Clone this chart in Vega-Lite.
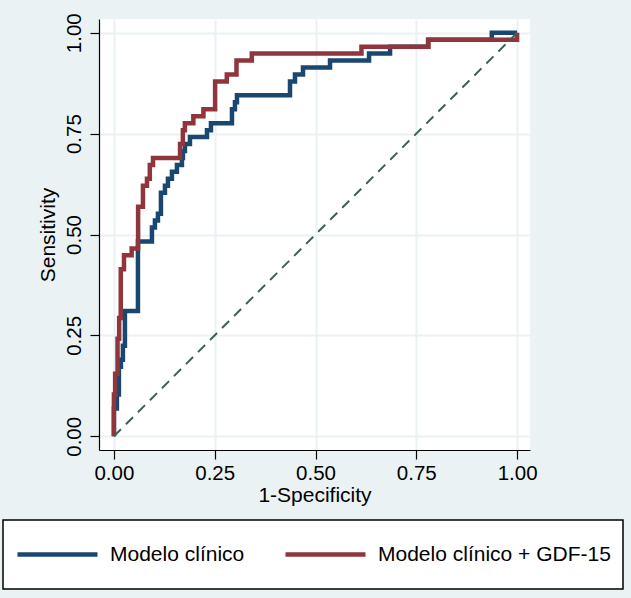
{
  "$schema": "https://vega.github.io/schema/vega-lite/v6.json",
  "width": 431,
  "height": 431,
  "autosize": {"type": "none"},
  "padding": {"left": 99, "top": 19, "right": 101, "bottom": 148},
  "background": "#EAF2F3",
  "config": {
    "view": {"fill": "white", "stroke": null},
    "font": "Liberation Sans",
    "legend": {"strokeWidth": 1.5},
    "axis": {
      "grid": true,
      "gridColor": "#EAF2F3",
      "gridWidth": 2,
      "domainColor": "black",
      "domainWidth": 1.2,
      "tickColor": "black",
      "tickWidth": 1.2,
      "tickSize": 9,
      "labelFontSize": 20.5,
      "labelColor": "black",
      "titleFontSize": 21,
      "titleFontWeight": "normal",
      "titleColor": "black"
    }
  },
  "layer": [
    {
      "data": {
        "values": [
          {"model": "Modelo clínico", "i": 1, "fpr": 0, "tpr": 0},
          {"model": "Modelo clínico", "i": 2, "fpr": 0, "tpr": 0.069},
          {"model": "Modelo clínico", "i": 3, "fpr": 0.0074, "tpr": 0.1034},
          {"model": "Modelo clínico", "i": 4, "fpr": 0.0124, "tpr": 0.1724},
          {"model": "Modelo clínico", "i": 5, "fpr": 0.0174, "tpr": 0.1897},
          {"model": "Modelo clínico", "i": 6, "fpr": 0.0223, "tpr": 0.2241},
          {"model": "Modelo clínico", "i": 7, "fpr": 0.0273, "tpr": 0.3103},
          {"model": "Modelo clínico", "i": 8, "fpr": 0.0596, "tpr": 0.4828},
          {"model": "Modelo clínico", "i": 9, "fpr": 0.0943, "tpr": 0.5172},
          {"model": "Modelo clínico", "i": 10, "fpr": 0.1017, "tpr": 0.5345},
          {"model": "Modelo clínico", "i": 11, "fpr": 0.1092, "tpr": 0.5517},
          {"model": "Modelo clínico", "i": 12, "fpr": 0.1166, "tpr": 0.6034},
          {"model": "Modelo clínico", "i": 13, "fpr": 0.1266, "tpr": 0.6207},
          {"model": "Modelo clínico", "i": 14, "fpr": 0.134, "tpr": 0.6379},
          {"model": "Modelo clínico", "i": 15, "fpr": 0.1439, "tpr": 0.6552},
          {"model": "Modelo clínico", "i": 16, "fpr": 0.1563, "tpr": 0.6724},
          {"model": "Modelo clínico", "i": 17, "fpr": 0.1687, "tpr": 0.6897},
          {"model": "Modelo clínico", "i": 18, "fpr": 0.1712, "tpr": 0.7069},
          {"model": "Modelo clínico", "i": 19, "fpr": 0.1762, "tpr": 0.7241},
          {"model": "Modelo clínico", "i": 20, "fpr": 0.1886, "tpr": 0.7414},
          {"model": "Modelo clínico", "i": 21, "fpr": 0.2308, "tpr": 0.7586},
          {"model": "Modelo clínico", "i": 22, "fpr": 0.2407, "tpr": 0.7759},
          {"model": "Modelo clínico", "i": 23, "fpr": 0.2928, "tpr": 0.8103},
          {"model": "Modelo clínico", "i": 24, "fpr": 0.3002, "tpr": 0.8276},
          {"model": "Modelo clínico", "i": 25, "fpr": 0.3052, "tpr": 0.8448},
          {"model": "Modelo clínico", "i": 26, "fpr": 0.4367, "tpr": 0.8793},
          {"model": "Modelo clínico", "i": 27, "fpr": 0.4491, "tpr": 0.8966},
          {"model": "Modelo clínico", "i": 28, "fpr": 0.469, "tpr": 0.9138},
          {"model": "Modelo clínico", "i": 29, "fpr": 0.536, "tpr": 0.931},
          {"model": "Modelo clínico", "i": 30, "fpr": 0.6328, "tpr": 0.9483},
          {"model": "Modelo clínico", "i": 31, "fpr": 0.6849, "tpr": 0.9655},
          {"model": "Modelo clínico", "i": 32, "fpr": 0.7792, "tpr": 0.9828},
          {"model": "Modelo clínico", "i": 33, "fpr": 0.9372, "tpr": 1},
          {"model": "Modelo clínico", "i": 34, "fpr": 1, "tpr": 1},
          {"model": "Modelo clínico + GDF-15", "i": 1, "fpr": 0, "tpr": 0},
          {"model": "Modelo clínico + GDF-15", "i": 2, "fpr": 0, "tpr": 0.1034},
          {"model": "Modelo clínico + GDF-15", "i": 3, "fpr": 0.003, "tpr": 0.1552},
          {"model": "Modelo clínico + GDF-15", "i": 4, "fpr": 0.009, "tpr": 0.2414},
          {"model": "Modelo clínico + GDF-15", "i": 5, "fpr": 0.013, "tpr": 0.2931},
          {"model": "Modelo clínico + GDF-15", "i": 6, "fpr": 0.017, "tpr": 0.4138},
          {"model": "Modelo clínico + GDF-15", "i": 7, "fpr": 0.025, "tpr": 0.4483},
          {"model": "Modelo clínico + GDF-15", "i": 8, "fpr": 0.044, "tpr": 0.4655},
          {"model": "Modelo clínico + GDF-15", "i": 9, "fpr": 0.06, "tpr": 0.569},
          {"model": "Modelo clínico + GDF-15", "i": 10, "fpr": 0.072, "tpr": 0.6207},
          {"model": "Modelo clínico + GDF-15", "i": 11, "fpr": 0.082, "tpr": 0.6379},
          {"model": "Modelo clínico + GDF-15", "i": 12, "fpr": 0.089, "tpr": 0.6724},
          {"model": "Modelo clínico + GDF-15", "i": 13, "fpr": 0.097, "tpr": 0.6897},
          {"model": "Modelo clínico + GDF-15", "i": 14, "fpr": 0.164, "tpr": 0.7241},
          {"model": "Modelo clínico + GDF-15", "i": 15, "fpr": 0.171, "tpr": 0.7586},
          {"model": "Modelo clínico + GDF-15", "i": 16, "fpr": 0.176, "tpr": 0.7759},
          {"model": "Modelo clínico + GDF-15", "i": 17, "fpr": 0.197, "tpr": 0.7931},
          {"model": "Modelo clínico + GDF-15", "i": 18, "fpr": 0.222, "tpr": 0.8103},
          {"model": "Modelo clínico + GDF-15", "i": 19, "fpr": 0.251, "tpr": 0.8793},
          {"model": "Modelo clínico + GDF-15", "i": 20, "fpr": 0.28, "tpr": 0.8966},
          {"model": "Modelo clínico + GDF-15", "i": 21, "fpr": 0.304, "tpr": 0.931},
          {"model": "Modelo clínico + GDF-15", "i": 22, "fpr": 0.342, "tpr": 0.9483},
          {"model": "Modelo clínico + GDF-15", "i": 23, "fpr": 0.614, "tpr": 0.9655},
          {"model": "Modelo clínico + GDF-15", "i": 24, "fpr": 0.78, "tpr": 0.9828},
          {"model": "Modelo clínico + GDF-15", "i": 25, "fpr": 1, "tpr": 1}
        ]
      },
      "mark": {"type": "line", "interpolate": "step-after", "strokeWidth": 4.5},
      "encoding": {
        "x": {
          "field": "fpr",
          "type": "quantitative",
          "scale": {"domain": [-0.037, 1.032], "nice": false, "zero": false},
          "axis": {"title": "1-Specificity", "values": [0, 0.25, 0.5, 0.75, 1], "format": ".2f", "labelPadding": 4, "titlePadding": 1}
        },
        "y": {
          "field": "tpr",
          "type": "quantitative",
          "scale": {"domain": [-0.034, 1.034], "nice": false, "zero": false},
          "axis": {"title": "Sensitivity", "values": [0, 0.25, 0.5, 0.75, 1], "format": ".2f", "labelAngle": -90, "labelAlign": "center", "labelBaseline": "alphabetic", "labelPadding": 10, "titlePadding": 6}
        },
        "order": {"field": "i", "type": "quantitative"},
        "color": {
          "field": "model",
          "type": "nominal",
          "scale": {"domain": ["Modelo clínico", "Modelo clínico + GDF-15"], "range": ["#1A476F", "#90353B"]},
          "legend": {
            "title": null,
            "orient": "none",
            "legendX": -96,
            "legendY": 501,
            "direction": "horizontal",
            "symbolType": "stroke",
            "symbolSize": 6400,
            "symbolStrokeWidth": 4.5,
            "labelFontSize": 21,
            "labelColor": "black",
            "labelLimit": 400,
            "labelOffset": 10,
            "columnPadding": 38,
            "padding": 12,
            "clipHeight": 45,
            "fillColor": "white",
            "strokeColor": "black"
          }
        }
      }
    },
    {
      "data": {"values": [{"fpr": 0, "tpr": 0}, {"fpr": 1, "tpr": 1}]},
      "mark": {"type": "line", "strokeDash": [10, 7], "strokeWidth": 2, "color": "#3F5F57"},
      "encoding": {
        "x": {"field": "fpr", "type": "quantitative"},
        "y": {"field": "tpr", "type": "quantitative"}
      }
    }
  ]
}
